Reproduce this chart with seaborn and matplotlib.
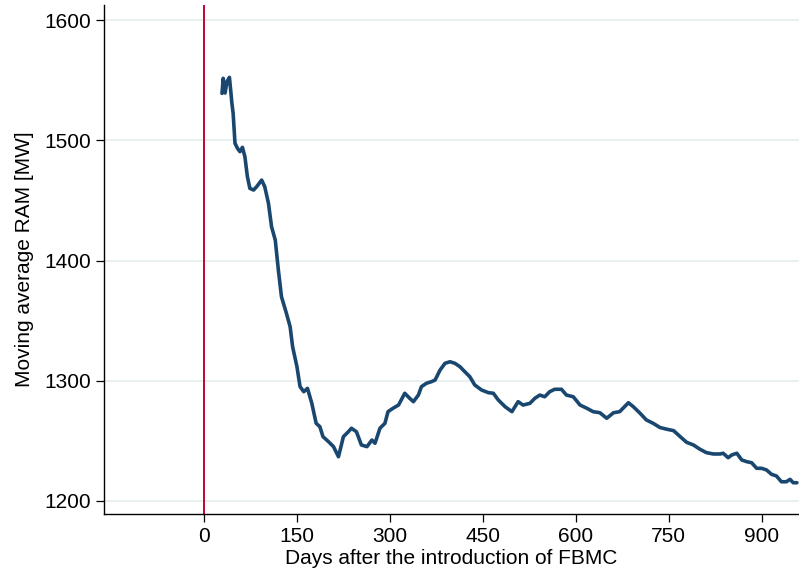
import matplotlib
matplotlib.use("Agg")
import matplotlib.pyplot as plt
import seaborn as sns
import pandas as pd

# Moving average of remaining available margin after FBMC go-live
days = [29, 31, 34, 37, 41, 43, 45, 47, 50, 54, 58, 62, 66, 70, 74, 80, 85, 93, 98,
        104, 109, 115, 120, 125, 133, 139, 143, 150, 155, 161, 167, 174, 181, 187,
        192, 201, 209, 217, 225, 233, 238, 246, 254, 263, 271, 276, 284, 292, 297,
        305, 314, 324, 332, 338, 346, 351, 359, 367, 373, 381, 389, 397, 405, 413,
        421, 429, 437, 448, 459, 467, 475, 486, 497, 507, 515, 526, 534, 542, 550,
        558, 566, 577, 585, 596, 607, 618, 628, 639, 650, 661, 671, 685, 693, 704,
        714, 725, 736, 747, 758, 768, 779, 790, 800, 811, 822, 833, 838, 846, 852,
        860, 868, 876, 884, 892, 900, 908, 916, 924, 932, 940, 946, 951, 957]
ram = [1539.0, 1551.5, 1539.3, 1548.7, 1552.3, 1541.8, 1530.7, 1522.4, 1497.5, 1493.3,
       1490.5, 1494.1, 1486.3, 1469.7, 1460.0, 1458.6, 1461.4, 1466.9, 1461.4, 1447.6,
       1428.1, 1417.0, 1392.1, 1369.9, 1356.1, 1344.9, 1328.3, 1311.7, 1295.1, 1290.9,
       1293.7, 1281.2, 1264.6, 1261.8, 1253.5, 1249.3, 1245.2, 1236.8, 1253.5, 1257.6,
       1260.5, 1257.6, 1246.6, 1245.2, 1250.7, 1248.0, 1260.5, 1264.6, 1274.3, 1277.1,
       1279.8, 1289.6, 1285.4, 1282.6, 1288.1, 1295.1, 1297.9, 1299.2, 1300.6, 1308.9,
       1314.5, 1315.8, 1314.5, 1311.7, 1307.5, 1303.4, 1296.5, 1292.3, 1290.1, 1289.6,
       1284.0, 1278.4, 1274.3, 1282.6, 1279.8, 1281.2, 1285.4, 1288.1, 1286.7, 1290.9,
       1292.9, 1292.9, 1288.1, 1286.7, 1279.8, 1277.1, 1274.3, 1273.4, 1268.8, 1273.4,
       1274.3, 1281.7, 1278.4, 1272.9, 1267.4, 1264.6, 1261.1, 1259.7, 1258.5, 1253.8,
       1248.8, 1246.6, 1243.2, 1240.2, 1239.1, 1239.1, 1239.7, 1236.0, 1238.3, 1239.7,
       1234.1, 1232.7, 1231.8, 1227.2, 1227.2, 1225.8, 1222.2, 1220.8, 1216.0, 1216.0,
       1218.0, 1215.2, 1215.2]

x_ticks = [0, 150, 300, 450, 600, 750, 900]
y_ticks = [1200, 1300, 1400, 1500, 1600]
intro_day = 0

sns.set_theme(style="white")
plt.rcParams["font.family"] = ["Liberation Sans", "DejaVu Sans"]

df = pd.DataFrame({"day": days, "ram": ram})

fig = plt.figure(figsize=(7.99, 5.73), dpi=100)
ax = fig.add_axes([0.1302, 0.1030, 0.8698, 0.8883])

for y in y_ticks:
    ax.axhline(y, color="#e8f0f1", lw=1.4, zorder=0)

ax.axvline(intro_day, color="#c10534", lw=1.4, zorder=2)
sns.lineplot(data=df, x="day", y="ram", ax=ax, color="#1a476f", lw=2.6, zorder=3)

ax.set_xlim(-161.4, 960.4)
ax.set_ylim(1189.2, 1612.5)
ax.set_xticks(x_ticks)
ax.set_yticks(y_ticks)
ax.tick_params(axis="both", direction="out", length=6, width=0.9, color="black",
               labelsize=15, pad=3.5, bottom=True, left=True, labelcolor="black")

for side in ["top", "right"]:
    ax.spines[side].set_visible(False)
for side in ["left", "bottom"]:
    ax.spines[side].set_color("black")
    ax.spines[side].set_linewidth(1)

ax.set_xlabel("Days after the introduction of FBMC", fontsize=15, labelpad=2, color="black")
ax.set_ylabel("Moving average RAM [MW]", fontsize=15, labelpad=7, color="black")

fig.savefig("out.png", dpi=100, facecolor="white")
